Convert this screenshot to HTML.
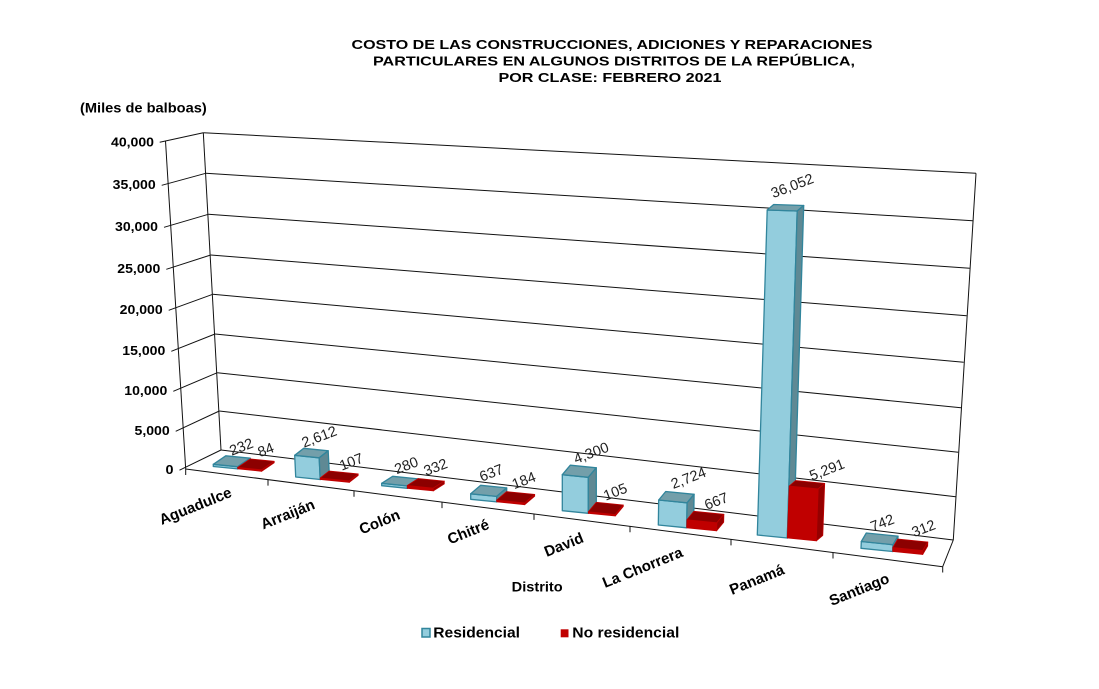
<!DOCTYPE html>
<html>
<head>
<meta charset="utf-8">
<style>
  html,body{margin:0;padding:0;background:#fff;}
  svg{display:block;}
  .t{font-family:"Liberation Sans",Arial,sans-serif;}
</style>
</head>
<body>
<svg width="1099" height="689" viewBox="0 0 1099 689" xmlns="http://www.w3.org/2000/svg" class="t">
  <rect x="0" y="0" width="1099" height="689" fill="#fff"/>

  <!-- Title -->
  <g font-weight="bold" font-size="12.5" fill="#000" text-anchor="middle">
    <text x="612" y="49" textLength="521" lengthAdjust="spacingAndGlyphs">COSTO DE LAS CONSTRUCCIONES, ADICIONES Y REPARACIONES</text>
    <text x="614" y="65.5" textLength="482" lengthAdjust="spacingAndGlyphs">PARTICULARES EN ALGUNOS DISTRITOS DE LA REPÚBLICA,</text>
    <text x="610" y="82" textLength="223" lengthAdjust="spacingAndGlyphs">POR CLASE: FEBRERO 2021</text>
  </g>

  <!-- Unit label -->
  <text x="80" y="112.3" font-weight="bold" font-size="13.5" textLength="126.7" lengthAdjust="spacingAndGlyphs">(Miles de balboas)</text>

  <!-- Gridlines / walls -->
  <g stroke="#111" stroke-width="1" fill="none">
    <line x1="221" y1="450" x2="953.3" y2="540"/>
    <line x1="219.3" y1="411" x2="955.7" y2="496.7"/>
    <line x1="217.3" y1="372.7" x2="958.3" y2="452.3"/>
    <line x1="215" y1="334" x2="961" y2="407.7"/>
    <line x1="212.7" y1="294.3" x2="963.7" y2="362.3"/>
    <line x1="210.7" y1="255" x2="966.7" y2="315.7"/>
    <line x1="208.3" y1="214.3" x2="969.7" y2="268.3"/>
    <line x1="205.7" y1="173.3" x2="972.7" y2="220.7"/>
    <line x1="203.3" y1="132.7" x2="976" y2="173.3"/>
    <line x1="179.5" y1="470.2" x2="221" y2="450"/>
    <line x1="175.7" y1="431.3" x2="219.3" y2="411"/>
    <line x1="173.3" y1="391.3" x2="217.3" y2="372.7"/>
    <line x1="171.3" y1="351.3" x2="215" y2="334"/>
    <line x1="168.7" y1="310.3" x2="212.7" y2="294.3"/>
    <line x1="166.3" y1="269.3" x2="210.7" y2="255"/>
    <line x1="164" y1="227.3" x2="208.3" y2="214.3"/>
    <line x1="161.7" y1="185.3" x2="205.7" y2="173.3"/>
    <line x1="159.7" y1="142.3" x2="203.3" y2="132.7"/>
    <line x1="185.7" y1="469" x2="165.5" y2="141"/>
    <line x1="221" y1="450" x2="203.3" y2="132.7"/>
    <line x1="953.3" y1="540" x2="976" y2="173.3"/>
    <line x1="185.7" y1="469" x2="942.7" y2="566.7"/>
    <line x1="942.7" y1="566.7" x2="953.3" y2="540"/>
    <line x1="185.7" y1="469" x2="185.7" y2="475"/>
    <line x1="268" y1="479.6" x2="268" y2="485.6"/>
    <line x1="354" y1="490.7" x2="354" y2="496.7"/>
    <line x1="442" y1="502.1" x2="442" y2="508.1"/>
    <line x1="534" y1="513.9" x2="534" y2="519.9"/>
    <line x1="630" y1="526.3" x2="630" y2="532.3"/>
    <line x1="731" y1="539.4" x2="731" y2="545.4"/>
    <line x1="833" y1="552.5" x2="833" y2="558.5"/>
    <line x1="942.7" y1="566.7" x2="942.7" y2="572.5"/>
  </g>

  <!-- Y axis labels -->
  <g font-weight="bold" font-size="12.5" fill="#000" text-anchor="end">
    <text x="154" y="146.5" textLength="43" lengthAdjust="spacingAndGlyphs">40,000</text>
    <text x="155.7" y="189" textLength="43" lengthAdjust="spacingAndGlyphs">35,000</text>
    <text x="158" y="231" textLength="43" lengthAdjust="spacingAndGlyphs">30,000</text>
    <text x="160.3" y="273" textLength="43" lengthAdjust="spacingAndGlyphs">25,000</text>
    <text x="162.7" y="314" textLength="43" lengthAdjust="spacingAndGlyphs">20,000</text>
    <text x="165.3" y="355" textLength="43" lengthAdjust="spacingAndGlyphs">15,000</text>
    <text x="167.3" y="395" textLength="43" lengthAdjust="spacingAndGlyphs">10,000</text>
    <text x="169.7" y="435" textLength="35.2" lengthAdjust="spacingAndGlyphs">5,000</text>
    <text x="173.5" y="474" textLength="8" lengthAdjust="spacingAndGlyphs">0</text>
  </g>

  <!-- Bars -->
  <g stroke-linejoin="round">
    <g stroke="#31859C" stroke-width="1.3">
      <polygon fill="#93CDDD" points="213.3,466.5 237.7,468.9 237.7,466.7 213.3,464.3"/>
      <polygon fill="#739FAA" points="213.3,464.3 237.7,466.7 250.2,458.2 225.8,455.8"/>
      <polygon fill="#5F8994" points="237.7,468.9 237.7,466.7 250.2,458.2 250.2,460.4"/>
    </g>
    <g stroke="#C00000" stroke-width="0.8">
      <polygon fill="#C00000" points="237.7,468.9 261.7,471.3 261.7,469.8 237.7,467.4"/>
      <polygon fill="#8C0000" points="237.7,467.4 261.7,469.8 274.2,461.3 250.2,458.9"/>
      <polygon fill="#950000" points="261.7,471.3 261.7,469.8 274.2,461.3 274.2,462.8"/>
    </g>
    <g stroke="#31859C" stroke-width="1.3">
      <polygon fill="#93CDDD" points="295.7,477 320.2,479.5 319.2,457.8 294.7,455.3"/>
      <polygon fill="#739FAA" points="294.7,455.3 319.2,457.8 328.2,450.8 303.7,448.3"/>
      <polygon fill="#5F8994" points="320.2,479.5 319.2,457.8 328.2,450.8 329.2,472.5"/>
    </g>
    <g stroke="#C00000" stroke-width="0.8">
      <polygon fill="#C00000" points="320.2,479.5 349.2,482.4 349.2,480.9 320.2,478"/>
      <polygon fill="#8C0000" points="320.2,478 349.2,480.9 358.2,473.9 329.2,471"/>
      <polygon fill="#950000" points="349.2,482.4 349.2,480.9 358.2,473.9 358.2,475.4"/>
    </g>
    <g stroke="#31859C" stroke-width="1.3">
      <polygon fill="#93CDDD" points="381.7,485.7 407.3,488.3 407.3,485.9 381.7,483.3"/>
      <polygon fill="#739FAA" points="381.7,483.3 407.3,485.9 418.3,478.9 392.7,476.3"/>
      <polygon fill="#5F8994" points="407.3,488.3 407.3,485.9 418.3,478.9 418.3,481.3"/>
    </g>
    <g stroke="#C00000" stroke-width="0.8">
      <polygon fill="#C00000" points="407.3,488.3 433.3,490.9 433.3,488.1 407.3,485.5"/>
      <polygon fill="#8C0000" points="407.3,485.5 433.3,488.1 444.3,481.1 418.3,478.5"/>
      <polygon fill="#950000" points="433.3,490.9 433.3,488.1 444.3,481.1 444.3,483.9"/>
    </g>
    <g stroke="#31859C" stroke-width="1.3">
      <polygon fill="#93CDDD" points="470.7,499.3 496.7,501.9 496.7,496.4 470.7,493.8"/>
      <polygon fill="#739FAA" points="470.7,493.8 496.7,496.4 506.7,487.9 480.7,485.3"/>
      <polygon fill="#5F8994" points="496.7,501.9 496.7,496.4 506.7,487.9 506.7,493.4"/>
    </g>
    <g stroke="#C00000" stroke-width="0.8">
      <polygon fill="#C00000" points="496.7,501.9 524.7,504.7 524.7,502.9 496.7,500.1"/>
      <polygon fill="#8C0000" points="496.7,500.1 524.7,502.9 534.7,494.4 506.7,491.6"/>
      <polygon fill="#950000" points="524.7,504.7 524.7,502.9 534.7,494.4 534.7,496.2"/>
    </g>
    <g stroke="#31859C" stroke-width="1.3">
      <polygon fill="#93CDDD" points="562.3,510.7 588.3,513.3 588.3,477.3 562.3,474.7"/>
      <polygon fill="#739FAA" points="562.3,474.7 588.3,477.3 596.3,467.8 570.3,465.2"/>
      <polygon fill="#5F8994" points="588.3,513.3 588.3,477.3 596.3,467.8 596.3,503.8"/>
    </g>
    <g stroke="#C00000" stroke-width="0.8">
      <polygon fill="#C00000" points="588.3,513.3 615.3,516 615.3,514.5 588.3,511.8"/>
      <polygon fill="#8C0000" points="588.3,511.8 615.3,514.5 623.3,505 596.3,502.3"/>
      <polygon fill="#950000" points="615.3,516 615.3,514.5 623.3,505 623.3,506.5"/>
    </g>
    <g stroke="#31859C" stroke-width="1.3">
      <polygon fill="#93CDDD" points="658.3,525 686.7,527.8 687.1,502.8 658.7,500"/>
      <polygon fill="#739FAA" points="658.7,500 687.1,502.8 694.1,494.3 665.7,491.5"/>
      <polygon fill="#5F8994" points="686.7,527.8 687.1,502.8 694.1,494.3 693.7,519.3"/>
    </g>
    <g stroke="#C00000" stroke-width="0.8">
      <polygon fill="#C00000" points="686.7,527.8 716.7,530.8 716.9,522.8 686.9,519.8"/>
      <polygon fill="#8C0000" points="686.9,519.8 716.9,522.8 723.9,514.3 693.9,511.3"/>
      <polygon fill="#950000" points="716.7,530.8 716.9,522.8 723.9,514.3 723.7,522.3"/>
    </g>
    <g stroke="#31859C" stroke-width="1.3">
      <polygon fill="#93CDDD" points="757.3,535 787.3,538 797.2,211 767.2,210"/>
      <polygon fill="#739FAA" points="767.2,210 797.2,211 803.7,205.5 773.7,204.5"/>
      <polygon fill="#5F8994" points="787.3,538 797.2,211 803.7,205.5 793.8,532.5"/>
    </g>
    <g stroke="#C00000" stroke-width="0.8">
      <polygon fill="#C00000" points="787.3,538 816.3,540.9 818.2,488.9 789.2,486"/>
      <polygon fill="#8C0000" points="789.2,486 818.2,488.9 824.7,483.4 795.7,480.5"/>
      <polygon fill="#950000" points="816.3,540.9 818.2,488.9 824.7,483.4 822.8,535.4"/>
    </g>
    <g stroke="#31859C" stroke-width="1.3">
      <polygon fill="#93CDDD" points="861,548.3 892.7,551.5 893,544.7 861.3,541.5"/>
      <polygon fill="#739FAA" points="861.3,541.5 893,544.7 898,536.2 866.3,533"/>
      <polygon fill="#5F8994" points="892.7,551.5 893,544.7 898,536.2 897.7,543"/>
    </g>
    <g stroke="#C00000" stroke-width="0.8">
      <polygon fill="#C00000" points="892.7,551.5 922.7,554.5 922.8,550.5 892.8,547.5"/>
      <polygon fill="#8C0000" points="892.8,547.5 922.8,550.5 927.8,542 897.8,539"/>
      <polygon fill="#950000" points="922.7,554.5 922.8,550.5 927.8,542 927.7,546"/>
    </g>
  </g>

  <!-- Value labels -->
  <g font-size="14.5" fill="#1f1f1f">
    <text transform="translate(231.7,455.7) rotate(-21)">232</text>
    <text transform="translate(260,457.3) rotate(-21)">84</text>
    <text transform="translate(304,447.7) rotate(-21)">2,612</text>
    <text transform="translate(341.7,470.7) rotate(-21)">107</text>
    <text transform="translate(396.7,474.3) rotate(-21)">280</text>
    <text transform="translate(426,476) rotate(-21)">332</text>
    <text transform="translate(481.7,481.7) rotate(-21)">637</text>
    <text transform="translate(514.3,489.3) rotate(-21)">184</text>
    <text transform="translate(576,464) rotate(-21)">4,300</text>
    <text transform="translate(605.7,500.7) rotate(-21)">105</text>
    <text transform="translate(673.3,489) rotate(-21)">2,724</text>
    <text transform="translate(706.7,510) rotate(-21)">667</text>
    <text transform="translate(773.3,198.3) rotate(-21)">36,052</text>
    <text transform="translate(811.7,480.7) rotate(-21)">5,291</text>
    <text transform="translate(872.7,531.7) rotate(-21)">742</text>
    <text transform="translate(914,537.3) rotate(-21)">312</text>
  </g>

  <!-- Category labels -->
  <g font-size="15" font-weight="bold" fill="#000">
    <text transform="translate(161.7,525) rotate(-22)">Aguadulce</text>
    <text transform="translate(263.3,529.5) rotate(-22)">Arraiján</text>
    <text transform="translate(361.7,534.5) rotate(-22)">Colón</text>
    <text transform="translate(450,544.5) rotate(-22)">Chitré</text>
    <text transform="translate(546.7,557) rotate(-22)">David</text>
    <text transform="translate(605,588) rotate(-22)">La Chorrera</text>
    <text transform="translate(732,595) rotate(-22)">Panamá</text>
    <text transform="translate(831.7,606) rotate(-22)">Santiago</text>
  </g>

  <!-- Axis title -->
  <text x="511.7" y="591.5" font-size="14" font-weight="bold" fill="#000" textLength="51" lengthAdjust="spacingAndGlyphs">Distrito</text>

  <!-- Legend -->
  <rect x="422" y="628.5" width="8" height="8.5" fill="#93CDDD" stroke="#31859C" stroke-width="1.5"/>
  <text x="433.3" y="637.5" font-size="15" font-weight="bold" fill="#000" textLength="86.7" lengthAdjust="spacingAndGlyphs">Residencial</text>
  <rect x="560.7" y="629.3" width="7.8" height="8" fill="#C00000"/>
  <text x="572.3" y="637.5" font-size="15" font-weight="bold" fill="#000" textLength="107" lengthAdjust="spacingAndGlyphs">No residencial</text>
</svg>
</body>
</html>
